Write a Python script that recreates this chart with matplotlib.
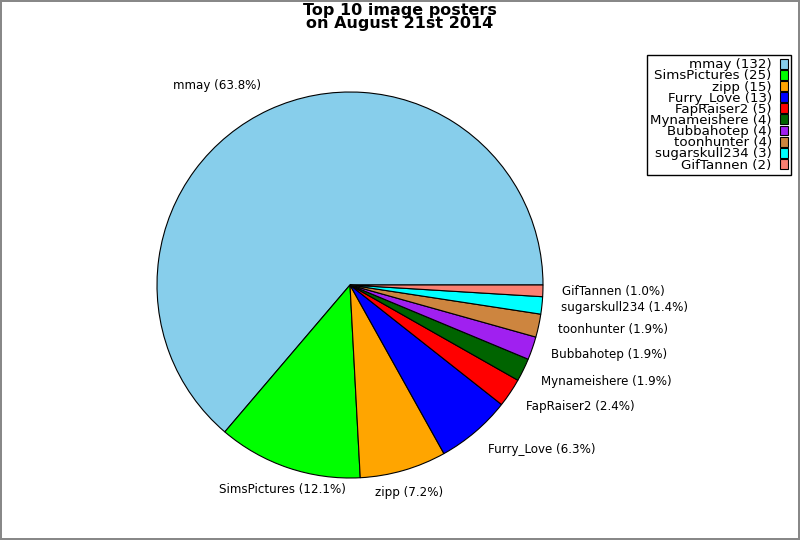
import math
import matplotlib
matplotlib.use('Agg')
import matplotlib.pyplot as plt

names = ['mmay', 'SimsPictures', 'zipp', 'Furry_Love', 'FapRaiser2',
         'Mynameishere', 'Bubbahotep', 'toonhunter', 'sugarskull234', 'GifTannen']
counts = [132, 25, 15, 13, 5, 4, 4, 4, 3, 2]
colors = ['#87ceeb', '#00ff00', '#ffa500', '#0000ff', '#ff0000',
          '#006400', '#a020f0', '#cd853f', '#00ffff', '#fa8072']

total = float(sum(counts))
pie_labels = ['%s (%.1f%%)' % (n, 100.0 * c / total) for n, c in zip(names, counts)]
legend_labels = ['%s (%d)' % (n, c) for n, c in zip(names, counts)]

fig = plt.figure(figsize=(8, 5.4), dpi=100)
fig.patch.set_edgecolor('#888888')
fig.patch.set_linewidth(1.5)

# pie centre ~ (350, 255) px from bottom-left, radius ~193 px
r = 193.0
side = 2.5 * r
ax = fig.add_axes([(350 - side / 2) / 800, (255 - side / 2) / 540, side / 800, side / 540])
wedges, texts = ax.pie(counts, labels=pie_labels, colors=colors,
                       wedgeprops={'edgecolor': 'black', 'linewidth': 0.8},
                       textprops={'fontsize': 8.6})
ax.set_xlim(-1.25, 1.25)
ax.set_ylim(-1.25, 1.25)
ax.set_aspect('equal')

# labels near the bottom sit centred on their wedge, the top one above it
for w, t in zip(wedges, texts):
    mid = math.radians((w.theta1 + w.theta2) / 2.0)
    if math.sin(mid) > 0.8:
        t.set_va('bottom')
    else:
        if abs(math.cos(mid)) < 0.38:
            t.set_ha('center')
        if math.sin(mid) < -0.4:
            x, y = t.get_position()
            t.set_position((x, y - 0.016))

fig.suptitle('Top 10 image posters\non August 21st 2014', fontsize=11.5,
             fontweight='bold', y=0.995, va='top', linespacing=0.85)

leg = fig.legend(wedges, legend_labels, loc='upper right',
                 bbox_to_anchor=(791 / 800, 1 - 55 / 540), borderaxespad=0,
                 markerfirst=False, fancybox=False, fontsize=9.6,
                 labelspacing=-0.14, handlelength=0.6, handleheight=0.75,
                 handletextpad=0.6, borderpad=0.25, framealpha=1)
leg.get_frame().set_edgecolor('black')
for t in leg.get_texts():
    t.set_ha('right')

fig.savefig('out.png', dpi=100, edgecolor=fig.get_edgecolor())
